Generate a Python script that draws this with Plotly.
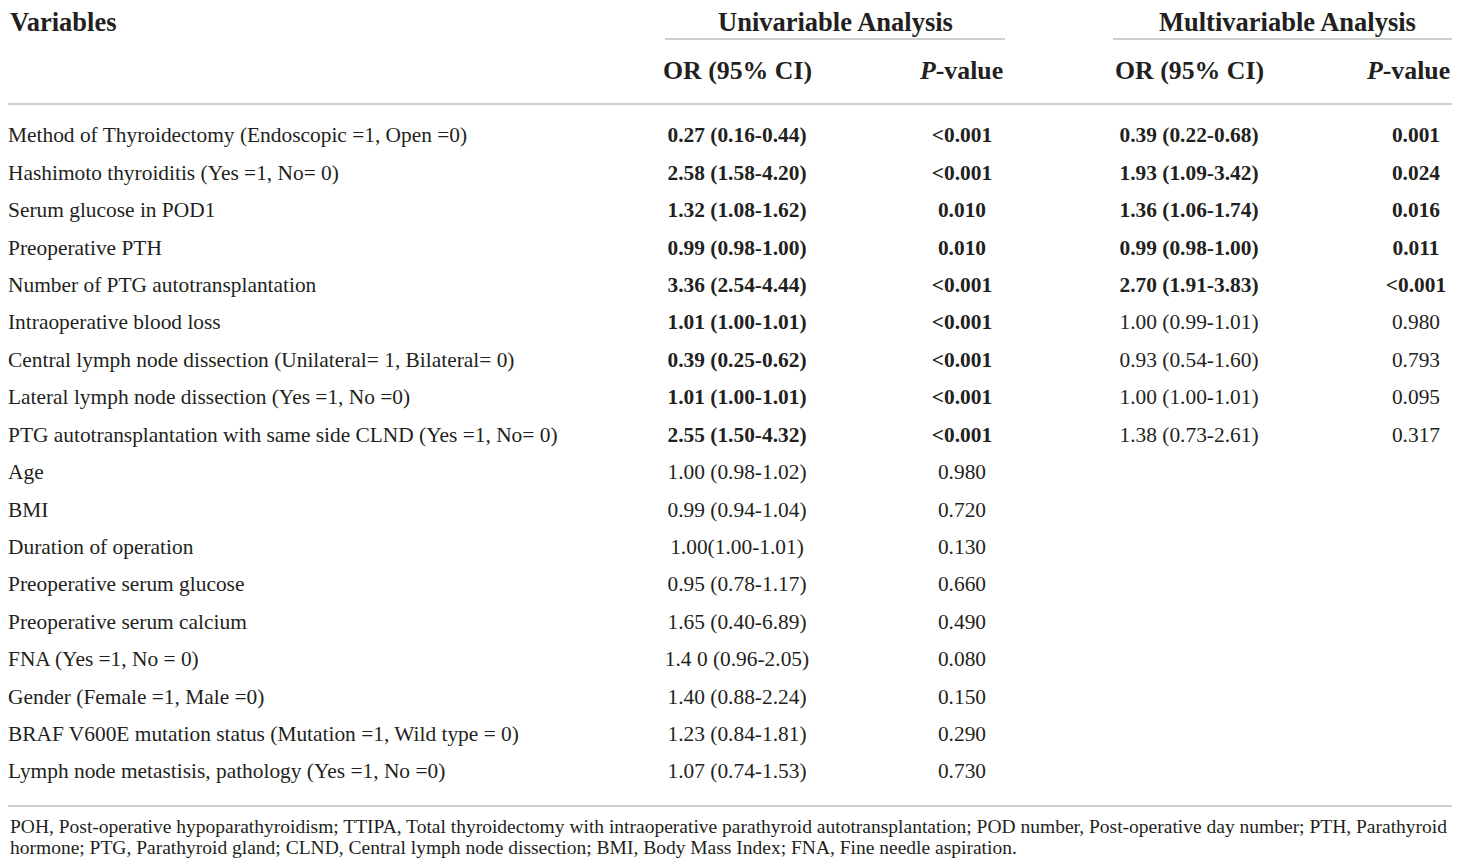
import plotly.graph_objects as go

# table content
variables = [
    "Method of Thyroidectomy (Endoscopic =1, Open =0)",
    "Hashimoto thyroiditis (Yes =1, No= 0)",
    "Serum glucose in POD1",
    "Preoperative PTH",
    "Number of PTG autotransplantation",
    "Intraoperative blood loss",
    "Central lymph node dissection (Unilateral= 1, Bilateral= 0)",
    "Lateral lymph node dissection (Yes =1, No =0)",
    "PTG autotransplantation with same side CLND (Yes =1, No= 0)",
    "Age",
    "BMI",
    "Duration of operation",
    "Preoperative serum glucose",
    "Preoperative serum calcium",
    "FNA (Yes =1, No = 0)",
    "Gender (Female =1, Male =0)",
    "BRAF V600E mutation status (Mutation =1, Wild type = 0)",
    "Lymph node metastisis, pathology (Yes =1, No =0)",
]
uni_or = [
    "0.27 (0.16-0.44)", "2.58 (1.58-4.20)", "1.32 (1.08-1.62)", "0.99 (0.98-1.00)",
    "3.36 (2.54-4.44)", "1.01 (1.00-1.01)", "0.39 (0.25-0.62)", "1.01 (1.00-1.01)",
    "2.55 (1.50-4.32)", "1.00 (0.98-1.02)", "0.99 (0.94-1.04)", "1.00(1.00-1.01)",
    "0.95 (0.78-1.17)", "1.65 (0.40-6.89)", "1.4 0 (0.96-2.05)", "1.40 (0.88-2.24)",
    "1.23 (0.84-1.81)", "1.07 (0.74-1.53)",
]
uni_p = [
    "<0.001", "<0.001", "0.010", "0.010", "<0.001", "<0.001", "<0.001", "<0.001",
    "<0.001", "0.980", "0.720", "0.130", "0.660", "0.490", "0.080", "0.150",
    "0.290", "0.730",
]
multi_or = [
    "0.39 (0.22-0.68)", "1.93 (1.09-3.42)", "1.36 (1.06-1.74)", "0.99 (0.98-1.00)",
    "2.70 (1.91-3.83)", "1.00 (0.99-1.01)", "0.93 (0.54-1.60)", "1.00 (1.00-1.01)",
    "1.38 (0.73-2.61)",
]
multi_p = [
    "0.001", "0.024", "0.016", "0.011", "<0.001", "0.980", "0.793", "0.095", "0.317",
]
footnote = [
    "POH, Post-operative hypoparathyroidism; TTIPA, Total thyroidectomy with intraoperative parathyroid autotransplantation; POD number, Post-operative day number; PTH, Parathyroid",
    "hormone; PTG, Parathyroid gland; CLND, Central lymph node dissection; BMI, Body Mass Index; FNA, Fine needle aspiration.",
]

W, H = 1460, 866
PAD = 8  # browser body margin around the plot div (both sides)
LEFT, RIGHT, TOP, BOTTOM = PAD, W - PAD, PAD, H - PAD  # axis units = window pixels
FONT = "Liberation Serif"
INK = "#231f20"
RULE = "#cfcfcf"
BODY = 21.4
ROW0, ROWH = 137, 37.42


def significant(p):
    return p.startswith("<") or float(p) < 0.05


def bold_if(cells, pvals):
    return ["<b>%s</b>" % c if significant(p) else c for c, p in zip(cells, pvals)]


rows_y = [ROW0 + i * ROWH for i in range(len(variables))]

fig = go.Figure()


def column(x, y, text, pos):
    fig.add_trace(go.Scatter(
        x=[x] * len(text), y=y, text=text, mode="text", textposition=pos,
        textfont=dict(family=FONT, size=BODY, color=INK),
        hoverinfo="skip", showlegend=False, cliponaxis=False,
    ))


column(LEFT, rows_y, variables, "middle right")
column(737, rows_y, bold_if(uni_or, uni_p), "middle center")
column(962, rows_y, bold_if(uni_p, uni_p), "middle center")
column(1189, rows_y[:len(multi_or)], bold_if(multi_or, multi_p), "middle center")
column(1416, rows_y[:len(multi_p)], bold_if(multi_p, multi_p), "middle center")

# headers
heads = [
    (LEFT, 22, "<b>Variables</b>", "left", 26.5),
    (835, 22, "<b>Univariable Analysis</b>", "center", 26.5),
    (1287, 22, "<b>Multivariable Analysis</b>", "center", 26.5),
    (737, 70, "<b>OR (95% CI)</b>", "center", 25.8),
    (1005, 70, "<b><i>P</i>-value</b>", "right", 25.8),
    (1189, 70, "<b>OR (95% CI)</b>", "center", 25.8),
    (RIGHT, 70, "<b><i>P</i>-value</b>", "right", 25.8),
]
for x, y, t, anchor, size in heads:
    fig.add_annotation(x=x, y=y, xref="x", yref="y", text=t, showarrow=False,
                       xanchor=anchor, yanchor="middle",
                       font=dict(family=FONT, size=size, color=INK))

for i, line in enumerate(footnote):
    fig.add_annotation(x=LEFT, y=826 + i * 21, xref="x", yref="y", text=line,
                       showarrow=False, xanchor="left", yanchor="middle",
                       font=dict(family=FONT, size=19.5, color=INK))

# rules
rules = [(665, 1005, 39), (1113, RIGHT, 39), (LEFT, RIGHT, 104), (LEFT, RIGHT, 806)]
for x0, x1, y in rules:
    fig.add_shape(type="line", x0=x0, x1=x1, y0=y, y1=y, xref="x", yref="y",
                  line=dict(color=RULE, width=2))

fig.update_xaxes(range=[LEFT, RIGHT], visible=False, fixedrange=True)
fig.update_yaxes(range=[BOTTOM, TOP], visible=False, fixedrange=True)
fig.update_layout(width=RIGHT - LEFT, height=BOTTOM - TOP,
                  margin=dict(l=0, r=0, t=0, b=0),
                  paper_bgcolor="white", plot_bgcolor="white")

fig.write_html("out.html")
